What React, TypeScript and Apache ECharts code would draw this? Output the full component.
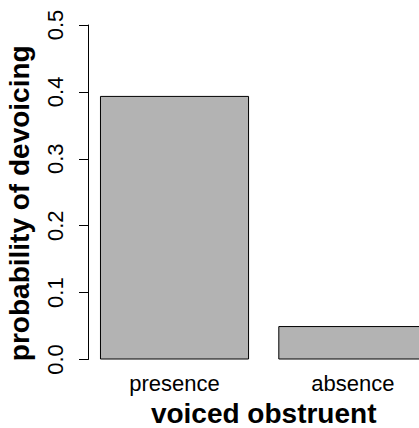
import React, { useEffect, useRef } from "react";
import * as echarts from "echarts";

const categories = ["presence", "absence"];
const values = [0.394, 0.05];
const yTicks = { min: 0, max: 0.5, interval: 0.1 };
const xTitle = "voiced obstruent";
const yTitle = "probability of devoicing";

export default function App() {
  const ref = useRef<HTMLDivElement>(null);
  useEffect(() => {
    if (!ref.current) return;
    const chart = echarts.init(ref.current, undefined, { renderer: "svg" });
    const font = "'Liberation Sans', Arial, sans-serif";
    chart.setOption({
      animation: false,
      backgroundColor: "#ffffff",
      grid: {
        left: 85.35,
        width: 356.65,
        top: 25,
        height: 334.5,
        containLabel: false,
        outerBoundsMode: "none",
      },
      xAxis: {
        type: "category",
        data: categories,
        boundaryGap: true,
        axisLine: { show: false },
        axisTick: { show: false },
        axisLabel: { fontSize: 22, color: "#000", fontFamily: font, margin: 13 },
        name: xTitle,
        nameLocation: "middle",
        nameGap: 40,
        nameTextStyle: { fontSize: 28, fontWeight: "bold", color: "#000", fontFamily: font },
      },
      yAxis: {
        type: "value",
        min: yTicks.min,
        max: yTicks.max,
        interval: yTicks.interval,
        offset: -2.65,
        splitLine: { show: false },
        axisLine: { show: true, lineStyle: { color: "#000", width: 1 } },
        axisTick: { show: true, length: 9, lineStyle: { color: "#000", width: 1 } },
        axisLabel: {
          fontSize: 22,
          color: "#000",
          fontFamily: font,
          rotate: 90,
          margin: 22,
          formatter: (v: number) => v.toFixed(1),
        },
        name: yTitle,
        nameLocation: "middle",
        nameGap: 55,
        nameRotate: 90,
        nameTextStyle: {
          fontSize: 28,
          fontWeight: "bold",
          color: "#000",
          fontFamily: font,
          padding: [0, 22, 0, 0],
        },
      },
      series: [
        {
          type: "bar",
          data: values,
          barCategoryGap: "16.4%",
          itemStyle: { color: "#B3B3B3", borderColor: "#000", borderWidth: 1 },
        },
      ],
    });
    return () => chart.dispose();
  }, []);
  return <div ref={ref} style={{ width: 419, height: 428, position: "absolute", left: 0, top: 0 }} />;
}
